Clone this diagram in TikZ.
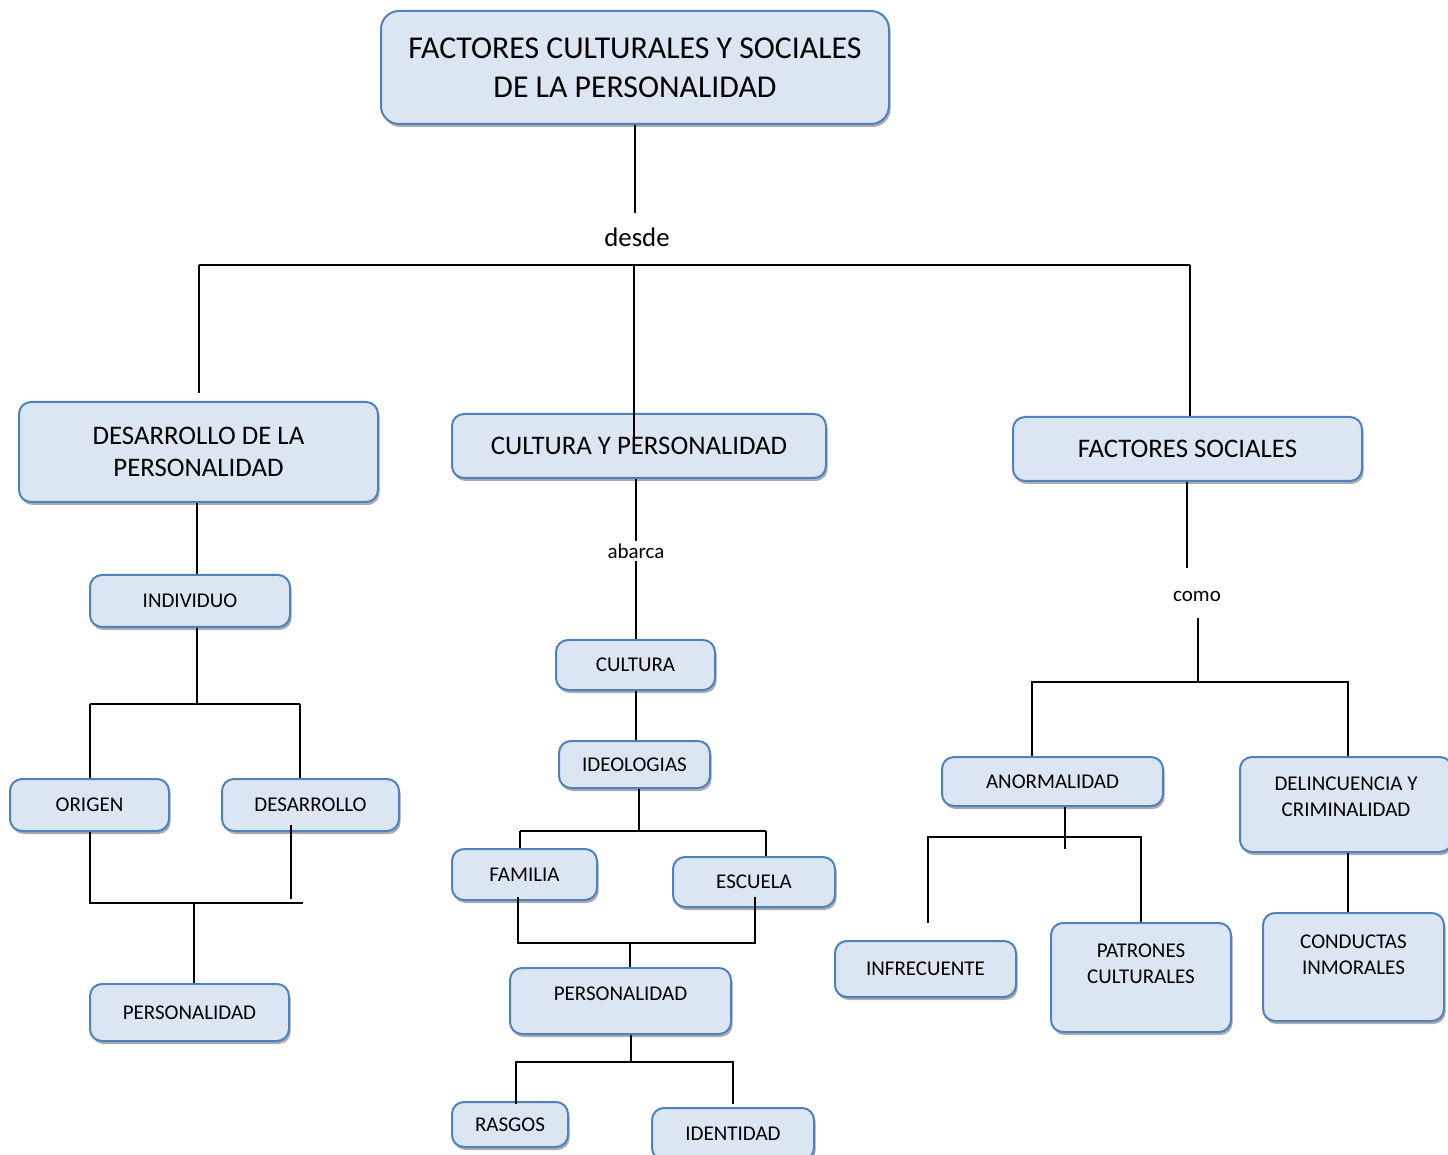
\documentclass[tikz,border=0pt]{standalone}
\usepackage{fontspec}
\setmainfont{Carlito}
\usepackage{xcolor}
\usepackage{tikz}
\usetikzlibrary{shadows}

\definecolor{boxfill}{HTML}{DCE6F2}
\definecolor{boxline}{HTML}{4F81BD}
\newcommand{\titlesize}{\fontsize{15.9}{19.5}\selectfont}
\newcommand{\midsize}{\fontsize{13.4}{16}\selectfont}
\newcommand{\boxsmall}{\fontsize{10.5}{13}\selectfont}

\begin{document}
\begin{tikzpicture}[
  x=0.5pt, y=-0.5pt,
  box/.style={rectangle, rounded corners=6pt, draw=boxline, line width=1pt, fill=boxfill, align=center, inner sep=0pt, font=\boxsmall,
    drop shadow={shadow xshift=0.8pt, shadow yshift=-1.5pt, fill=black!55, opacity=0.6}},
  boxsize/.style 2 args={minimum width=#1*0.5pt, minimum height=#2*0.5pt},
  inlabel/.style={font=\boxsmall, align=center, inner sep=0pt},
  word/.style={inner sep=1pt, font=\boxsmall},
  link/.style={draw=black, line width=1pt}
]
\useasboundingbox (0,0) rectangle (1448,1155);

\node[box, boxsize={508}{113}, rounded corners=9pt, font=\titlesize] (title) at (635,67.5) {FACTORES CULTURALES Y SOCIALES\\DE LA PERSONALIDAD};
\node[word, font=\midsize] (desde) at (637,237) {desde};

\node[box, boxsize={359}{100}, font=\midsize] (desarrollo) at (198.5,452) {DESARROLLO DE LA\\PERSONALIDAD};
\node[box, boxsize={374}{64}, font=\midsize] (cyp) at (639,446) {CULTURA Y PERSONALIDAD};
\node[box, boxsize={349}{64}, font=\midsize] (fsoc) at (1187.5,449) {FACTORES SOCIALES};

\node[box, boxsize={200}{52}] (individuo) at (190,601) {INDIVIDUO};
\node[box, boxsize={159}{52}] (origen) at (89.5,805) {ORIGEN};
\node[box, boxsize={177}{52}] (desarr) at (310.5,805) {DESARROLLO};
\node[box, boxsize={199}{57}] (perizq) at (189.5,1012.5) {PERSONALIDAD};

\node[word] (abarca) at (636,551) {abarca};
\node[box, boxsize={159}{50}] (cultura) at (635.5,665) {CULTURA};
\node[box, boxsize={151}{47}] (ideol) at (634.5,764.5) {IDEOLOGIAS};
\node[box, boxsize={145}{51}] (familia) at (524.5,874.5) {FAMILIA};
\node[box, boxsize={162}{50}] (escuela) at (754,882) {ESCUELA};
\node[box, boxsize={221}{66}, label={[inlabel, yshift=3.5pt]center:PERSONALIDAD}] (permed) at (620.5,1001) {};
\node[box, boxsize={116}{45}] (rasgos) at (510,1124.5) {RASGOS};
\node[box, boxsize={162}{52}] (identidad) at (733,1134) {IDENTIDAD};

\node[word] (como) at (1197,596) {como};
\node[box, boxsize={221}{49}] (anormal) at (1052.5,781.5) {ANORMALIDAD};
\node[box, boxsize={212}{95}, label={[inlabel, yshift=3.75pt]center:DELINCUENCIA Y\\CRIMINALIDAD}] (delinc) at (1346,804.5) {};
\node[box, boxsize={181}{56}] (infrec) at (925.5,969) {INFRECUENTE};
\node[box, boxsize={180}{109}, label={[inlabel, yshift=6.75pt]center:PATRONES\\CULTURALES}] (patrones) at (1141,977.5) {};
\node[box, boxsize={181}{108}, label={[inlabel, yshift=6pt]center:CONDUCTAS\\INMORALES}] (conductas) at (1353.5,967) {};

\coordinate (desdetop) at (635,213);
\coordinate (busL) at (199,265);
\coordinate (busC) at (634,265);
\coordinate (busR) at (1190,265);
\coordinate (leftend) at (199,393);
\coordinate (cypmark) at (634,440);

\coordinate (indbus) at (197,704);
\coordinate (indL) at (90,704);
\coordinate (indR) at (300,704);
\coordinate (perbusL) at (90,903);
\coordinate (perbusM) at (194,903);
\coordinate (perbusR) at (303,903);
\coordinate (desarrdn) at (291,825);
\coordinate (desarrend) at (291,899);

\coordinate (ideolbus) at (639,831);
\coordinate (famL) at (520,831);
\coordinate (escR) at (766,831);
\coordinate (famdn) at (518,897);
\coordinate (escdn) at (755,897);
\coordinate (pbusL) at (518,943);
\coordinate (pbusM) at (630,943);
\coordinate (pbusR) at (755,943);
\coordinate (rbusL) at (516,1062);
\coordinate (rbusM) at (631,1062);
\coordinate (rbusR) at (733,1062);
\coordinate (rasend) at (516,1104);
\coordinate (idend) at (733,1104);

\coordinate (comotop) at (1187,568);
\coordinate (comodn) at (1198,618);
\coordinate (comobus) at (1198,682);
\coordinate (anL) at (1032,682);
\coordinate (deR) at (1348,682);
\coordinate (anbus) at (1065,837);
\coordinate (anend) at (1065,849);
\coordinate (infL) at (928,837);
\coordinate (infend) at (928,923);
\coordinate (patR) at (1141,837);

\draw[link] (title.south) -- (desdetop);
\draw[link] (busL) -- (busR);
\draw[link] (busL) -- (leftend);
\draw[link] (busC) -- (cypmark);
\draw[link] (busR) -- (busR |- fsoc.north);

\draw[link] (desarrollo.south -| indbus) -- (individuo.north -| indbus);
\draw[link] (individuo.south -| indbus) -- (indbus);
\draw[link] (indL) -- (indR);
\draw[link] (indL) -- (indL |- origen.north);
\draw[link] (indR) -- (indR |- desarr.north);
\draw[link] (origen.south -| perbusL) -- (perbusL) -- (perbusR);
\draw[link] (desarrdn) -- (desarrend);
\draw[link] (perbusM) -- (perbusM |- perizq.north);

\draw[link] (cyp.south -| abarca) -- (abarca.north);
\draw[link] (abarca.south) -- (abarca.south |- cultura.north);
\draw[link] (cultura.south -| abarca) -- (ideol.north -| abarca);
\draw[link] (ideol.south -| ideolbus) -- (ideolbus);
\draw[link] (famL) -- (escR);
\draw[link] (famL) -- (famL |- familia.north);
\draw[link] (escR) -- (escR |- escuela.north);
\draw[link] (famdn) -- (pbusL) -- (pbusR) -- (escdn);
\draw[link] (pbusM) -- (pbusM |- permed.north);
\draw[link] (permed.south -| rbusM) -- (rbusM);
\draw[link] (rasend) -- (rbusL) -- (rbusR) -- (idend);

\draw[link] (fsoc.south -| comotop) -- (comotop);
\draw[link] (comodn) -- (comobus);
\draw[link] (anL |- anormal.north) -- (anL) -- (deR) -- (deR |- delinc.north);
\draw[link] (anormal.south -| anbus) -- (anend);
\draw[link] (infend) -- (infL) -- (patR) -- (patR |- patrones.north);
\draw[link] (delinc.south -| deR) -- (conductas.north -| deR);

\end{tikzpicture}
\end{document}
